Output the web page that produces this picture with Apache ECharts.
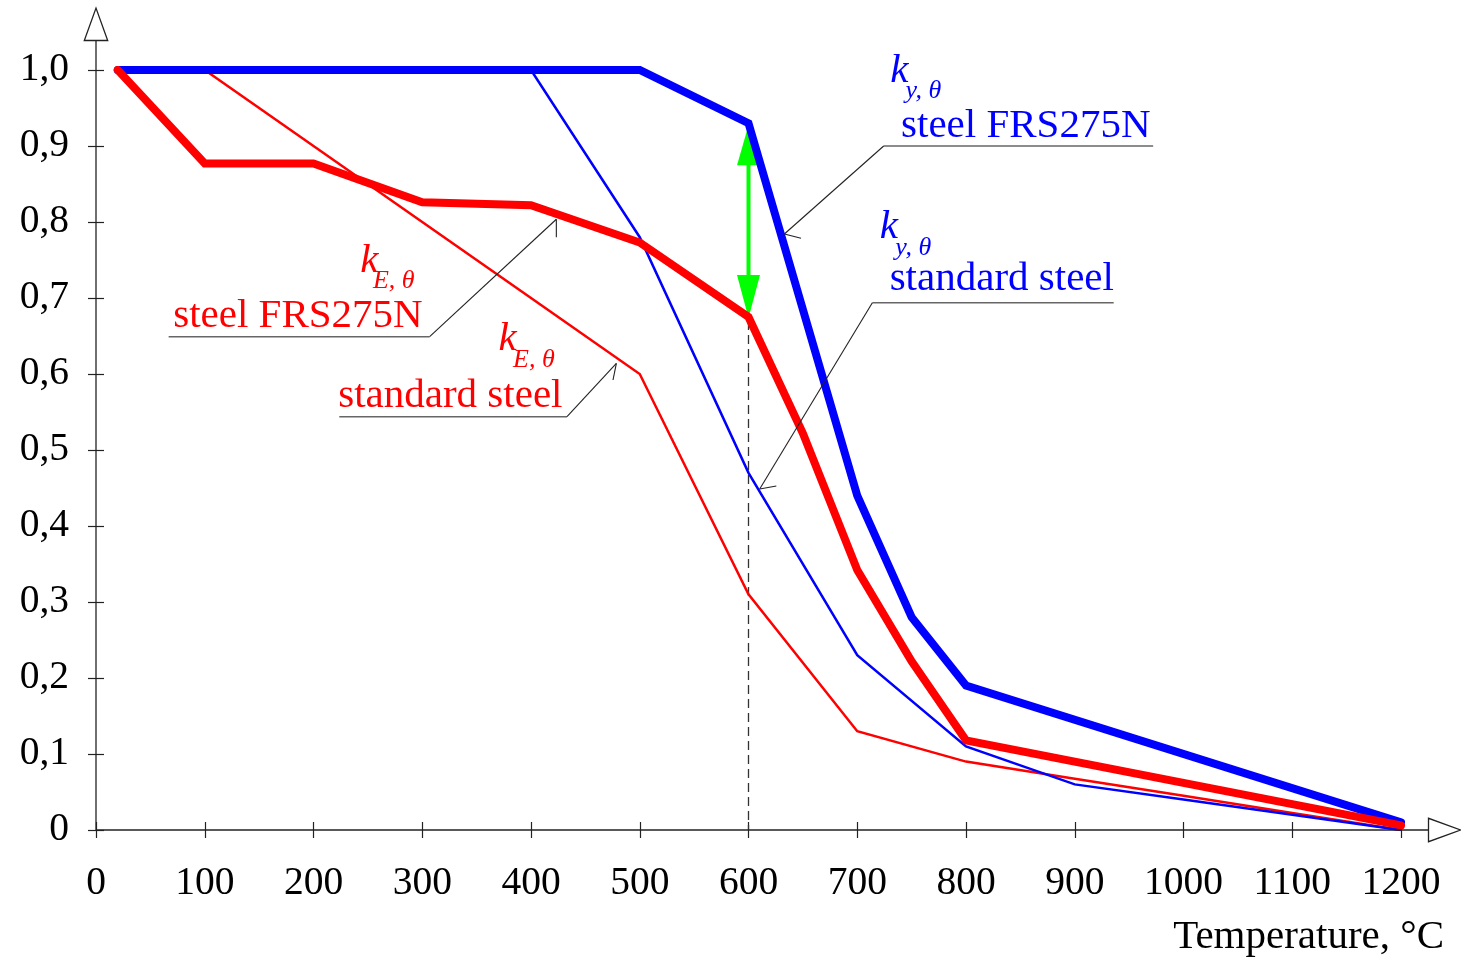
<!DOCTYPE html>
<html><head><meta charset="utf-8">
<script src="https://cdn.jsdelivr.net/npm/echarts@6/dist/echarts.min.js"></script>
<style>html,body{margin:0;padding:0;background:#fff}#c{width:1461px;height:960px}</style>
</head><body><div id="c"></div>
<script>
// ---- data ----
const tempsStd = [20, 100, 200, 300, 400, 500, 600, 700, 800, 900, 1000, 1100, 1200];
const kyStandard = [1, 1, 1, 1, 1, 0.78, 0.47, 0.23, 0.11, 0.06, 0.04, 0.02, 0];
const kEStandard = [1, 1, 0.9, 0.8, 0.7, 0.6, 0.31, 0.13, 0.09, 0.0675, 0.045, 0.0225, 0];
const tempsFRSy = [20, 500, 600, 700, 750, 800, 1200];
const kyFRS = [1, 1, 0.93, 0.44, 0.28, 0.19, 0.01];
const tempsFRSE = [20, 100, 200, 300, 400, 500, 600, 650, 700, 750, 800, 1200];
const kEFRS = [1, 0.877, 0.877, 0.826, 0.822, 0.773, 0.675, 0.522, 0.342, 0.222, 0.118, 0.006];
const yTickLabels = ['0', '0,1', '0,2', '0,3', '0,4', '0,5', '0,6', '0,7', '0,8', '0,9', '1,0'];
const xTickLabels = ['0', '100', '200', '300', '400', '500', '600', '700', '800', '900', '1000', '1100', '1200'];
const xAxisTitle = 'Temperature, °C';
const markTemp = 600;

// annotation texts
const annoTexts = [
  {sym: 'k', sub: 'y, θ', main: 'steel FRS275N', color: '#0000ff'},
  {sym: 'k', sub: 'y, θ', main: 'standard steel', color: '#0000ff'},
  {sym: 'k', sub: 'E, θ', main: 'steel FRS275N', color: '#ff0000'},
  {sym: 'k', sub: 'E, θ', main: 'standard steel', color: '#ff0000'}
];

// ---- layout (data-space positions of annotations) ----
const annoLayout = [
  {k: [730.4, 0.9846], s: [744.3, 0.9632], m: [740.3, 0.9122],
   leader: [[972.1, 0.9], [724.3, 0.9], [633.0, 0.7842]], barb: [648.3, 0.7786]},
  {k: [720.6, 0.7786], s: [735.0, 0.7566], m: [729.8, 0.7105],
   leader: [[935.8, 0.6938], [713.9, 0.6938], [610.3, 0.4487]], barb: [625.6, 0.4526]},
  {k: [243.1, 0.7346], s: [254.7, 0.7129], m: [71.0, 0.6622],
   leader: [[66.8, 0.6491], [306.8, 0.6491], [423.3, 0.8036]], barb: [423.3, 0.7799]},
  {k: [370.2, 0.6316], s: [383.5, 0.6096], m: [222.7, 0.5570],
   leader: [[223.7, 0.5438], [433.1, 0.5438], [478.5, 0.6141]], barb: [475.4, 0.5921]}
];

const FONT = '"Liberation Serif", "Times New Roman", serif';
const chart = echarts.init(document.getElementById('c'), null, {renderer: 'canvas'});
const zip = (xs, ys) => xs.map((x, i) => [x, ys[i]]);
const tickColor = '#222';

const option = {
  animation: false,
  backgroundColor: '#fff',
  grid: {left: 96, right: 60, top: 70, bottom: 130},
  xAxis: [
    {type: 'value', min: 0, max: 1200, interval: 100, position: 'bottom',
     axisLine: {show: false}, splitLine: {show: false},
     axisTick: {show: true, length: 8, lineStyle: {color: tickColor, width: 1.2}},
     axisLabel: {fontSize: 39.5, fontFamily: FONT, color: '#000', margin: 34,
       formatter: (v) => xTickLabels[Math.round(v / 100)]}},
    {type: 'value', min: 0, max: 1200, interval: 100, position: 'bottom',
     axisLine: {show: false}, splitLine: {show: false}, axisLabel: {show: false},
     axisTick: {show: true, inside: true, length: 8, lineStyle: {color: tickColor, width: 1.2}}}
  ],
  yAxis: [
    {type: 'value', min: 0, max: 1, interval: 0.1, position: 'left',
     axisLine: {show: false}, splitLine: {show: false},
     axisTick: {show: true, length: 8, lineStyle: {color: tickColor, width: 1.2}},
     axisLabel: {fontSize: 39.5, fontFamily: FONT, color: '#000', margin: 27,
       formatter: (v) => yTickLabels[Math.round(v * 10)]}},
    {type: 'value', min: 0, max: 1, interval: 0.1, position: 'left',
     axisLine: {show: false}, splitLine: {show: false}, axisLabel: {show: false},
     axisTick: {show: true, inside: true, length: 8, lineStyle: {color: tickColor, width: 1.2}}}
  ],
  series: [
    {name: 'kE standard', type: 'line', data: zip(tempsStd, kEStandard), showSymbol: false,
     lineStyle: {color: '#ff0000', width: 2.5, join: 'miter'}, z: 2},
    {name: 'ky standard', type: 'line', data: zip(tempsStd, kyStandard), showSymbol: false,
     lineStyle: {color: '#0000ff', width: 2.5, join: 'miter'}, z: 3},
    {name: 'ky FRS275N', type: 'line', data: zip(tempsFRSy, kyFRS), showSymbol: false,
     lineStyle: {color: '#0000ff', width: 8, join: 'miter', cap: 'round'}, z: 4},
    {name: 'kE FRS275N', type: 'line', data: zip(tempsFRSE, kEFRS), showSymbol: false,
     lineStyle: {color: '#ff0000', width: 8, join: 'miter', cap: 'round'}, z: 5}
  ]
};
chart.setOption(option);

const px = (p) => chart.convertToPixel({gridIndex: 0}, p);
const g = [];
const base = (size) => size * 0.26; // alphabetic baseline -> middle offset
const TXT = 41;

// axis lines with open triangle arrowheads
const o = px([0, 0]);
const xEnd = px([1200, 0]);
const yTop = px([0, 1]);
const ax = o[0], ay = o[1];
const yArrowBase = yTop[1] - 29.5;
const xArrowBase = xEnd[0] + 27.5;
g.push({type: 'line', z: 20, shape: {x1: ax, y1: ay, x2: ax, y2: yArrowBase}, style: {stroke: tickColor, lineWidth: 1.3}});
g.push({type: 'line', z: 20, shape: {x1: ax, y1: ay, x2: xArrowBase, y2: ay}, style: {stroke: tickColor, lineWidth: 1.3}});
g.push({type: 'polygon', z: 20, shape: {points: [[ax - 11.7, yArrowBase], [ax + 11.7, yArrowBase], [ax, yArrowBase - 32.4]]},
  style: {fill: '#fff', stroke: tickColor, lineWidth: 1.3}});
g.push({type: 'polygon', z: 20, shape: {points: [[xArrowBase, ay - 11.7], [xArrowBase, ay + 11.7], [xArrowBase + 32, ay]]},
  style: {fill: '#fff', stroke: tickColor, lineWidth: 1.3}});

// axis title
g.push({type: 'text', z: 20, x: 1444, y: 948.3 - base(TXT),
  style: {text: xAxisTitle, font: TXT + 'px ' + FONT, fill: '#000', align: 'right', verticalAlign: 'middle'}});

// dashed line and green double arrow at markTemp
const vTop = kyFRS[tempsFRSy.indexOf(markTemp)];
const vBot = kEFRS[tempsFRSE.indexOf(markTemp)];
const pTop = px([markTemp, vTop]);
const pBot = px([markTemp, vBot]);
g.push({type: 'line', z: 1, shape: {x1: pBot[0], y1: pBot[1] + 4, x2: pBot[0], y2: ay},
  style: {stroke: '#333', lineWidth: 1.3, lineDash: [9, 5]}});
const ahL = 42, ahW = 11.5;
g.push({type: 'line', z: 1, shape: {x1: pTop[0], y1: pTop[1] + ahL - 2, x2: pBot[0], y2: pBot[1] - ahL + 2},
  style: {stroke: '#00ff00', lineWidth: 4}});
g.push({type: 'polygon', z: 1, shape: {points: [[pTop[0], pTop[1] + 2], [pTop[0] - ahW, pTop[1] + ahL], [pTop[0] + ahW, pTop[1] + ahL]]},
  style: {fill: '#00ff00'}});
g.push({type: 'polygon', z: 1, shape: {points: [[pBot[0], pBot[1] + 1], [pBot[0] - ahW, pBot[1] - ahL], [pBot[0] + ahW, pBot[1] - ahL]]},
  style: {fill: '#00ff00'}});

// annotations
annoTexts.forEach((t, i) => {
  const L = annoLayout[i];
  const kp = px(L.k), sp = px(L.s), mp = px(L.m);
  g.push({type: 'text', z: 20, x: kp[0], y: kp[1] - base(41),
    style: {text: t.sym, font: 'italic 41px ' + FONT, fill: t.color, align: 'left', verticalAlign: 'middle'}});
  g.push({type: 'text', z: 20, x: sp[0], y: sp[1] - base(26),
    style: {text: t.sub, font: 'italic 26px ' + FONT, fill: t.color, align: 'left', verticalAlign: 'middle'}});
  g.push({type: 'text', z: 20, x: mp[0], y: mp[1] - base(TXT),
    style: {text: t.main, font: TXT + 'px ' + FONT, fill: t.color, align: 'left', verticalAlign: 'middle'}});
  const pts = L.leader.map(px);
  g.push({type: 'line', z: 15, shape: {x1: pts[0][0], y1: pts[0][1], x2: pts[1][0], y2: pts[1][1]},
    style: {stroke: '#666', lineWidth: 1.6}});
  g.push({type: 'line', z: 15, shape: {x1: pts[1][0], y1: pts[1][1], x2: pts[2][0], y2: pts[2][1]},
    style: {stroke: '#222', lineWidth: 1.1}});
  const b = px(L.barb);
  g.push({type: 'line', z: 15, shape: {x1: pts[2][0], y1: pts[2][1], x2: b[0], y2: b[1]},
    style: {stroke: '#222', lineWidth: 1.1}});
});

chart.setOption({graphic: g});
</script>
</body></html>
